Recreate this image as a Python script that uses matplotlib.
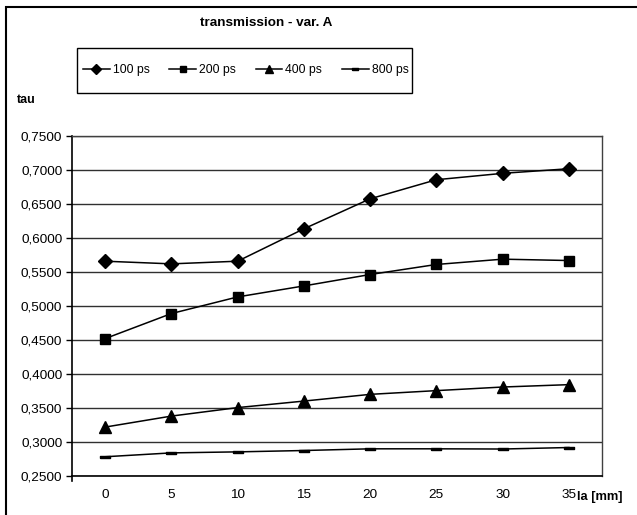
import matplotlib
matplotlib.use("Agg")
import matplotlib.pyplot as plt
from matplotlib.patches import Rectangle
from matplotlib.lines import Line2D

plt.rcParams['font.family'] = ['Liberation Sans', 'DejaVu Sans']

# Data
la_mm = [0, 5, 10, 15, 20, 25, 30, 35]
tau_100ps = [0.5656, 0.5617, 0.5656, 0.6133, 0.6575, 0.6856, 0.6950, 0.7018]
tau_200ps = [0.4516, 0.4885, 0.5130, 0.5292, 0.5460, 0.5608, 0.5686, 0.5666]
tau_400ps = [0.3213, 0.3375, 0.3500, 0.3596, 0.3695, 0.3750, 0.3803, 0.3838]
tau_800ps = [0.2776, 0.2833, 0.2848, 0.2868, 0.2893, 0.2893, 0.2890, 0.2912]
series_labels = ["100 ps", "200 ps", "400 ps", "800 ps"]
y_ticks = [0.25, 0.30, 0.35, 0.40, 0.45, 0.50, 0.55, 0.60, 0.65, 0.70, 0.75]

W, H = 637, 515
fig = plt.figure(figsize=(W / 100, H / 100), dpi=100)

# plot area in pixel coordinates
left, right, top, bottom = 72, 602, 136, 475.5
ax = fig.add_axes([left / W, 1 - bottom / H, (right - left) / W, (bottom - top) / H])

# flat bar marker for the 800 ps series
bar_marker = [(-1, -0.3), (1, -0.3), (1, 0.3), (-1, 0.3), (-1, -0.3)]

pos = list(range(len(la_mm)))
styles = [
    dict(marker='D', markersize=7),
    dict(marker='s', markersize=6.5),
    dict(marker='^', markersize=8.5),
    dict(marker=bar_marker, markersize=7),
]
for vals, lab, st in zip([tau_100ps, tau_200ps, tau_400ps, tau_800ps], series_labels, styles):
    ax.plot(pos, vals, color='black', lw=1.1, markerfacecolor='black',
            markeredgecolor='black', label=lab, clip_on=False, **st)

ax.set_xlim(-0.5, len(la_mm) - 0.5)
ax.set_ylim(0.25, 0.75)
ax.set_yticks(y_ticks)
ax.set_yticklabels([f"{v:.4f}".replace('.', ',') for v in y_ticks], fontsize=9.7)
ax.set_xticks(pos)
ax.set_xticklabels([str(v) for v in la_mm], fontsize=9.7)
ax.tick_params(axis='x', length=0, pad=10)
ax.tick_params(axis='y', length=4, width=1, direction='out', pad=3)

ax.yaxis.grid(True, color='#303030', lw=1)
ax.set_axisbelow(True)
for s in ['top', 'right']:
    ax.spines[s].set_color('#404040')
    ax.spines[s].set_linewidth(1)
for s in ['left', 'bottom']:
    ax.spines[s].set_color('black')
    ax.spines[s].set_linewidth(1.2)

# small tick below the axis corner
ax.add_line(Line2D([-0.5, -0.5], [0.25, 0.25 - 0.05 * 5 / 33.9], color='black',
                   lw=1.2, clip_on=False))

# outer chart frame
fig.add_artist(Rectangle((6.5 / W, -0.1), 1.2, 1 - 6.5 / H + 0.1,
                         transform=fig.transFigure, fill=False,
                         edgecolor='black', lw=1.5))

fig.text(266 / W, 1 - 23 / H, "transmission - var. A", ha='center', va='center',
         fontsize=9.7, fontweight='bold')
fig.text(17 / W, 1 - 100 / H, "tau", ha='left', va='center', fontsize=9,
         fontweight='bold')
fig.text(577 / W, 1 - 497 / H, "la [mm]", ha='left', va='center', fontsize=9.3,
         fontweight='bold')

# legend box
lx0, lx1, ly0, ly1 = 77, 412, 48, 93
fig.add_artist(Rectangle((lx0 / W, 1 - ly1 / H), (lx1 - lx0) / W, (ly1 - ly0) / H,
                         transform=fig.transFigure, fill=True, facecolor='white',
                         edgecolor='black', lw=1))
leg = fig.legend(loc='center', bbox_to_anchor=((lx0 + lx1) / 2 / W + 0.002, 1 - (ly0 + ly1) / 2 / H),
                 ncol=4, fontsize=8.8, frameon=False,
                 handlelength=2.2, handletextpad=0.25,
                 columnspacing=1.6, borderpad=0.3, markerscale=0.7)

fig.savefig("out.png", dpi=100)
